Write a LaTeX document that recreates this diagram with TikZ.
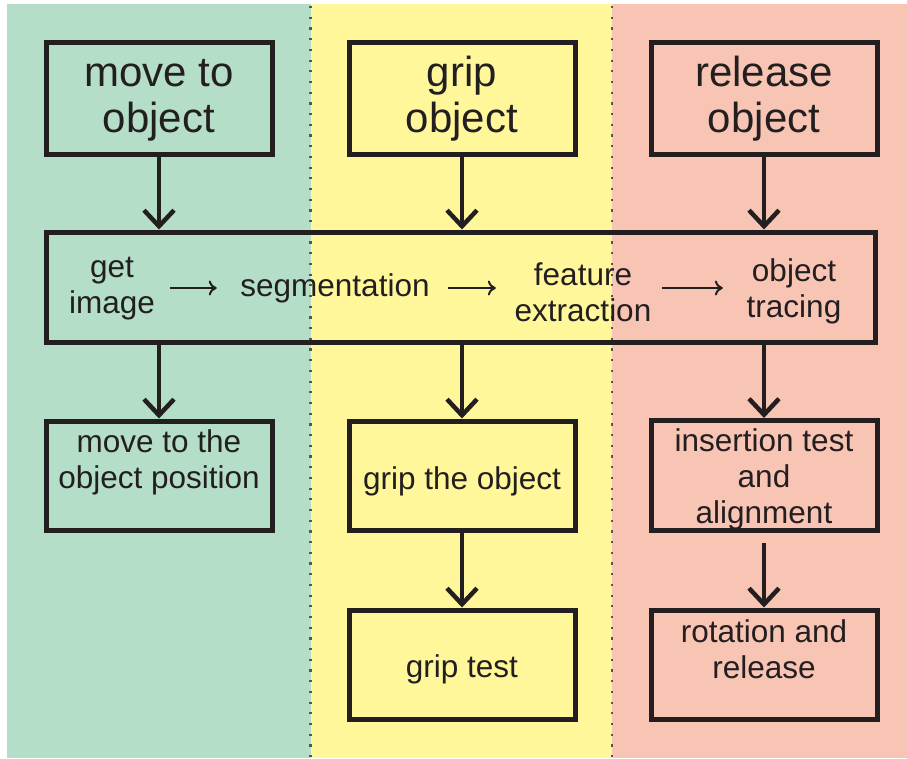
\documentclass[tikz,border=0pt]{standalone}
\usepackage{fontspec}
\setmainfont{Liberation Sans}
\usetikzlibrary{arrows.meta}
\definecolor{ink}{HTML}{231F20}
\definecolor{bggreen}{HTML}{B4DEC8}
\definecolor{bgyellow}{HTML}{FFF799}
\definecolor{bgpink}{HTML}{F8C4B4}
\definecolor{dotgray}{HTML}{555555}
% a strut on the first line that pushes the text block down
\newcommand\dropsmall[1]{\rule{0pt}{\dimexpr 23.5pt+#1*2\relax}}
\newcommand\dropbig[1]{\rule{0pt}{\dimexpr 31pt+#1*2\relax}}
\tikzset{
  bigbox/.style={draw=ink, line width=5pt, minimum width=226pt, minimum height=112pt, inner sep=0pt, align=center, text=ink, font=\fontsize{42}{46}\selectfont},
  smallbox/.style={draw=ink, line width=5pt, minimum width=226pt, minimum height=109pt, inner sep=0pt, align=center, text=ink, font=\fontsize{31.5}{36}\selectfont},
  widebox/.style={draw=ink, line width=5pt, minimum width=829pt, minimum height=110pt, inner sep=0pt},
  innertext/.style={inner sep=0pt, align=center, text=ink, font=\fontsize{31.5}{36}\selectfont},
  flow/.style={draw=ink, line width=4.5pt, -{Straight Barb[length=16pt,width=30pt]}},
  thinflow/.style={draw=ink, line width=2pt, -{To[length=8pt,width=15pt]}},
  divider/.style={draw=dotgray, line width=2.2pt, dash pattern=on 2.2pt off 8.5pt}
}
\begin{document}
\begin{tikzpicture}[x=1pt,y=-1pt]
\useasboundingbox (0,0) rectangle (907,758);
\fill[bggreen] (7,4) rectangle (310.5,758);
\fill[bgyellow] (310.5,4) rectangle (612,758);
\fill[bgpink] (612,4) rectangle (907,758);
\draw[divider] (310.5,6) -- (310.5,758);
\draw[divider] (612,6) -- (612,758);

% top boxes
\node[bigbox, fill=bggreen] (move) at (159,98) {\dropbig{0pt}move to\\object};
\node[bigbox, fill=bgyellow] (grip) at (462,98) {\dropbig{0pt}grip\\object};
\node[bigbox, fill=bgpink] (release) at (764,98) {\dropbig{0pt}release\\object};

% wide box
\node[widebox] (vision) at (460.5,287) {};
\node[innertext] (get) at (112,288.5) {get\\image};
\node[innertext] (seg) at (335,288) {segmentation};
\node[innertext] (feat) at (583,292) {feature\\extraction};
\node[innertext] (trace) at (794,291) {object\\tracing};

\draw[thinflow, shorten <=15pt, shorten >=23.5pt] (get.east |- seg.west) -- (seg.west);
\draw[thinflow, shorten <=18.5pt, shorten >=18.7pt] (seg.east) -- (seg.east -| feat.west);
\draw[thinflow, shorten <=10.7pt, shorten >=23.7pt] (feat.east |- seg.east) -- (trace.west |- seg.east);

% lower boxes
\node[smallbox] (moveobj) at (159,475.5) {\dropsmall{1pt}move to the\\object position\\~};
\node[smallbox] (gripobj) at (462,475.5) {\dropsmall{5.5pt}grip the object};
\node[smallbox] (insert) at (764,475.5) {\dropsmall{4pt}insertion test\\and\\alignment};
\node[smallbox] (griptest) at (462,664.5) {\dropsmall{5pt}grip test};
\node[smallbox] (rotate) at (764,664.5) {\dropsmall{2pt}rotation and\\release\\~};

% connectors
\draw[flow] (move.south) -- (move.south |- vision.north);
\draw[flow] (grip.south) -- (grip.south |- vision.north);
\draw[flow] (release.south) -- (release.south |- vision.north);
\draw[flow] (moveobj.north |- vision.south) -- (moveobj.north);
\draw[flow] (gripobj.north |- vision.south) -- (gripobj.north);
\draw[flow] (insert.north |- vision.south) -- (insert.north);
\draw[flow] (gripobj.south) -- (griptest.north);
\draw[flow, shorten <=10pt] (insert.south) -- (rotate.north);
\end{tikzpicture}
\end{document}
